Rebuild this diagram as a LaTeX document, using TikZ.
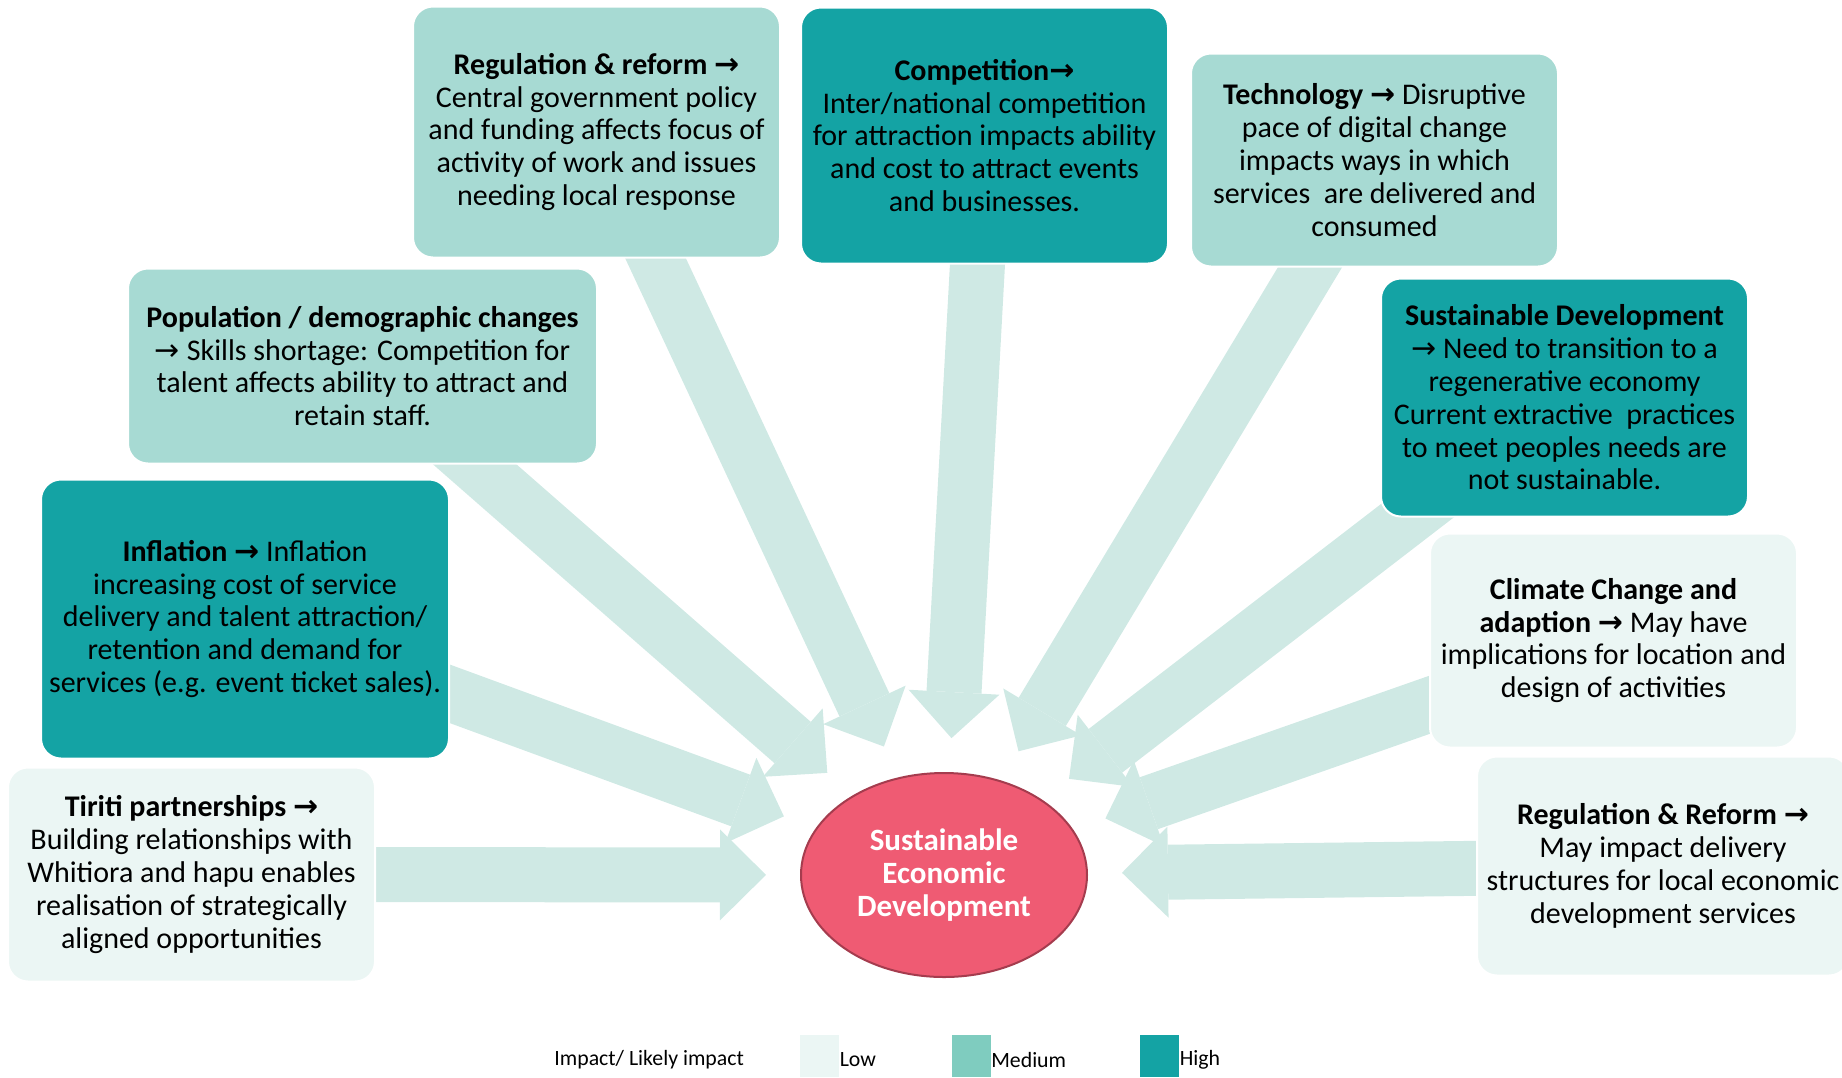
\documentclass[tikz,border=0pt]{standalone}
\usepackage{fontspec}
\setmainfont{Carlito}
\newfontfamily\arrowfont{DejaVu Sans}
\usetikzlibrary{shapes.geometric,arrows.meta,backgrounds,positioning}

\definecolor{highc}{HTML}{14A3A4}
\definecolor{medc}{HTML}{A7DAD3}
\definecolor{lowc}{HTML}{EBF6F4}
\definecolor{medkey}{HTML}{7FCCBF}
\definecolor{arrowc}{HTML}{CFE9E4}
\definecolor{sedfill}{HTML}{EF5B73}
\definecolor{sedline}{HTML}{A53C4E}

\newcommand{\toarrow}{{\arrowfont →}}

\begin{document}
\begin{tikzpicture}
[
	x	= 0.5pt,	% one unit is one pixel of the picture
	y	= -0.5pt,	% and y runs downwards
	%
	%
	% ----------- options for the factor boxes --------------
	factor/.style =
	{
		rectangle,
		rounded corners	= 10pt,
		draw			= white,
		line width		= 1pt,
		align			= center,
		inner sep		= 0pt,
		font			= \fontsize{15}{16.4}\selectfont
	},
	%
	high/.style		= {factor, fill = highc},
	medium/.style	= {factor, fill = medc},
	low/.style		= {factor, fill = lowc},
	%
	% ----------- options for the centre --------------
	goal/.style =
	{
		ellipse,
		fill			= sedfill,
		draw			= sedline,
		line width		= 1pt,
		minimum width	= 143pt,
		minimum height	= 102pt,
		align			= center,
		text			= white,
		font			= \bfseries\fontsize{15.5}{16.6}\selectfont
	},
	%
	% ----------- options for the big arrows --------------
	pusharrow/.style =
	{
		draw			= arrowc,
		line width		= 27.5pt,
		shorten <		= -20pt,
		shorten >		= 17pt,
		-{Triangle[length = 23pt, width = 45.5pt, line width = 0pt]}
	},
	%
	% ----------- options for the legend --------------
	keybox/.style =
	{
		rectangle,
		inner sep		= 0pt,
		minimum width	= 19.5pt,
		minimum height	= 21pt
	},
	keylabel/.style =
	{
		inner sep		= 0pt,
		font			= \fontsize{10.9}{12}\selectfont
	}
]

\useasboundingbox (0,0) rectangle (1842,1077);

% centre
\node [goal] (sed) at (944,875) {Sustainable\\Economic\\Development};

% factors
\node [medium, minimum width = 183.5pt, minimum height = 125.5pt] (regtop) at (596.5,132)
	{\textbf{Regulation \& reform \toarrow}\\Central government policy\\and funding affects focus of\\activity of work and issues\\needing local response};

\node [high, minimum width = 183.5pt, minimum height = 128pt] (compet) at (984.5,135.5)
	{\textbf{Competition\toarrow}\\Inter/national competition\\for attraction impacts ability\\and cost to attract events\\and businesses.};

\node [medium, minimum width = 183.5pt, minimum height = 106.5pt] (tech) at (1374.5,160)
	{\textbf{Technology \toarrow} Disruptive\\pace of digital change\\impacts ways in which\\services\ \ are delivered and\\consumed};

\node [medium, minimum width = 234.5pt, minimum height = 97.5pt] (popul) at (362.5,366)
	{\textbf{Population / demographic changes}\\\toarrow{} Skills shortage: Competition for\\talent affects ability to attract and\\retain staff.};

\node [high, minimum width = 183.5pt, minimum height = 119pt] (susdev) at (1564.5,397.5)
	{\textbf{Sustainable Development}\\\toarrow{} Need to transition to a\\regenerative economy\\Current extractive\ \ practices\\to meet peoples needs are\\not sustainable.};

\node [high, minimum width = 204pt, minimum height = 139.5pt] (inflat) at (245,619)
	{\textbf{Inflation \toarrow} Inflation\\increasing cost of service\\delivery and talent attraction/\\retention and demand for\\services (e.g. event ticket sales).};

\node [low, minimum width = 183.5pt, minimum height = 107pt] (climate) at (1613.5,640.5)
	{\textbf{Climate Change and}\\\textbf{adaption \toarrow} May have\\implications for location and\\design of activities};

\node [low, minimum width = 183.5pt, minimum height = 107pt] (tiriti) at (191.5,874.5)
	{\textbf{Tiriti partnerships \toarrow}\\Building relationships with\\Whitiora and hapu enables\\realisation of strategically\\aligned opportunities};

\node [low, minimum width = 186pt, minimum height = 109.5pt] (regright) at (1663,866)
	{\textbf{Regulation \& Reform \toarrow}\\May impact delivery\\structures for local economic\\development services};

% arrows, under the boxes
\begin{scope}[on background layer]
	\foreach \from in {regtop, compet, tech, popul, susdev, inflat, climate, tiriti, regright}
		\draw [pusharrow] (\from) -- (sed);
\end{scope}

% legend
\node [keylabel, anchor = west] (impact) at (554,1060) {Impact/ Likely impact};
\node [keybox, fill = lowc] (lowkey) at (819.5,1056) {};
\node [keylabel, right = 0pt of lowkey, yshift = -2pt] (lowlabel) {Low};
\node [keybox, fill = medkey] (medkey) at (971,1056) {};
\node [keylabel, right = 0pt of medkey, yshift = -2pt] (medlabel) {Medium};
\node [keybox, fill = highc] (highkey) at (1159.5,1056) {};
\node [keylabel, right = 0pt of highkey, yshift = -2pt] (highlabel) {High};

\end{tikzpicture}
\end{document}
